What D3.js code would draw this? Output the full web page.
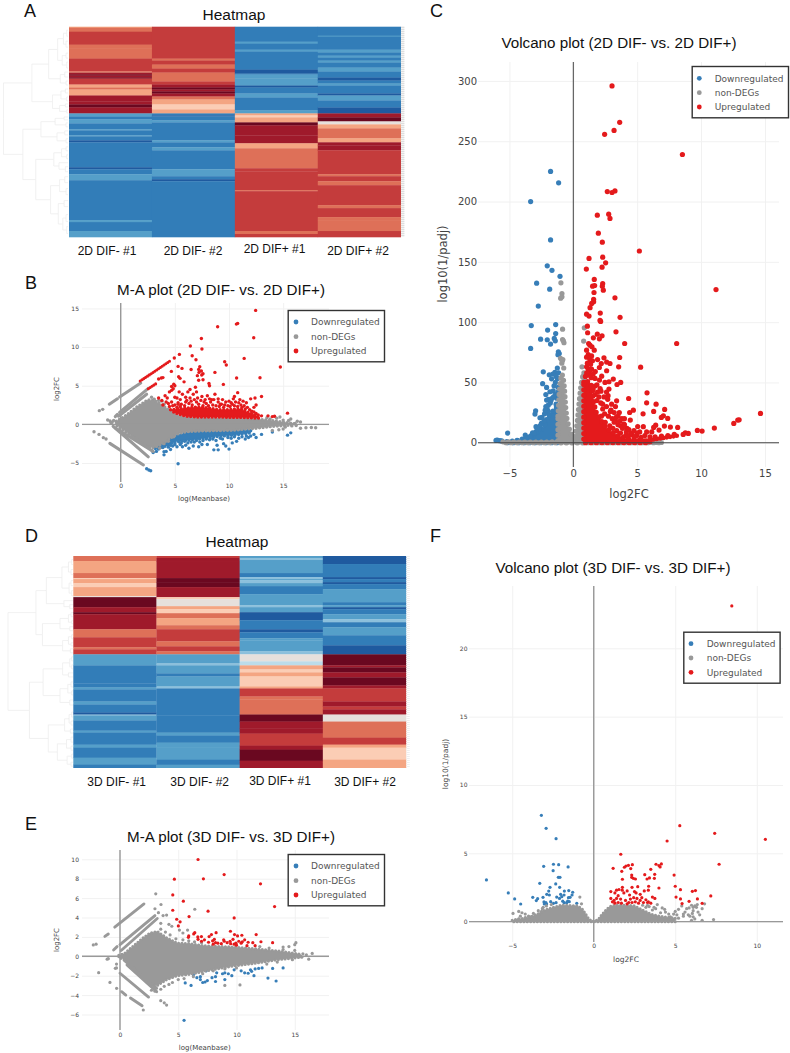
<!DOCTYPE html>
<html><head><meta charset="utf-8">
<script src="https://cdn.jsdelivr.net/npm/d3@7/dist/d3.min.js"></script>
<style>html,body{margin:0;padding:0;background:#fff}svg{display:block}</style></head>
<body><svg id="fig" width="790" height="1053"></svg>
<script>
// ---------- heatmap data: each column is a list of [rows, level] runs ----------
const heatLevels=[-5,-4,-3,-2,-1,0,1,2,3,4,5,6];
const heatColors=["#1f5a9f","#327db8","#559fc9","#8cc0dc","#bcdcea","#e6e0dc","#fbcdb5","#f4a582","#de7058","#c43c3c","#9f1a2b","#6a0820"];
const labelsA=["2D DIF- #1","2D DIF- #2","2D DIF+ #1","2D DIF+ #2"];
const labelsD=["3D DIF- #1","3D DIF- #2","3D DIF+ #1","3D DIF+ #2"];
const heatA1=[[1,2],[4,3],[13,4],[4,3],[10,3],[13,4],[1,2],[2,5],[1,6],[2,5],[1,6],[6,4],[3,2],[2,3],[6,2],[6,5],[3,5],[3,6],[6,5],
 [3,-3],[3,-4],[4,-3],[6,-4],[1,-3],[5,-4],[1,-3],[4,-4],[2,-5],[25,-4],[2,-5],[5,-4],[6,-3],[40,-4],[2,-3],[9,-4],[6,-3]];
const heatA2=[[32,4],[2,3],[4,4],[4,3],[4,4],[9,3],[3,4],[3,5],[2,6],[2,5],[2,6],[3,5],[3,3],[5,2],[5,1],[4,2],
 [2,-4],[1,-5],[4,-4],[2,-3],[18,-4],[2,-3],[5,-4],[3,-3],[19,-4],[7,-3],[3,-4],[2,-5],[56,-4]];
const heatA3=[[15,-4],[2,-3],[6,-4],[2,-3],[18,-4],[4,-5],[1,-4],[4,-3],[7,-3],[2,-5],[6,-4],[4,-3],[13,-4],[3,-3],
 [2,2],[2,1],[5,2],[3,6],[10,5],[8,5],[5,2],[20,3],[3,4],[19,4],[1,3],[40,4],[3,3],[3,4]];
const heatA4=[[9,-4],[1,-3],[13,-4],[3,-3],[3,-4],[2,-3],[3,-4],[2,-3],[5,-4],[4,-3],[6,-4],[3,-5],[3,-4],[2,-3],[8,-4],[2,-5],[5,-3],[7,-4],[6,-5],
 [4,5],[4,6],[3,0],[4,2],[10,3],[4,2],[3,5],[5,5],[24,4],[2,3],[5,4],[4,3],[20,4],[3,3],[9,4],[3,3],[11,3],[6,4]];
const heatD1=[[5,3],[12,2],[5,3],[1,1],[4,2],[4,1],[9,2],[1,0],[10,6],[5,5],[2,6],[15,5],[8,3],[10,4],[2,3],[5,4],
 [11,-3],[18,-4],[4,-4],[2,-3],[12,-4],[3,-3],[8,-4],[2,-5],[1,-2],[5,-3],[10,-4],[2,-3],[12,-4],[3,-3],[10,-4],[7,-3],[3,-4]];
const heatD2=[[2,4],[3,5],[17,5],[4,6],[5,6],[10,5],[2,1],[7,0],[3,2],[4,1],[5,3],[7,2],[4,3],[12,4],[5,3],[5,4],[3,3],
 [9,-3],[2,-2],[8,-3],[3,-4],[10,-3],[2,-2],[27,-4],[17,-4],[3,-3],[7,-4],[5,-3],[12,-3],[5,-4],[3,-3]];
const heatD3=[[2,-3],[2,-2],[13,-3],[4,-4],[2,-2],[1,-3],[3,-2],[3,-3],[8,-4],[11,-3],[2,-2],[5,-3],[8,-5],[9,-4],[3,-5],[6,-4],[2,-3],[11,-3],[3,-2],
 [7,0],[4,-1],[4,2],[3,1],[4,2],[10,1],[2,2],[8,4],[3,3],[15,3],[7,6],[7,5],[5,5],[12,4],[4,5],[11,6],[2,5],[5,5]];
const heatD4=[[8,-5],[13,-4],[2,-5],[3,-4],[2,-5],[5,-4],[13,-3],[3,-4],[2,-3],[2,-5],[5,-4],[5,-3],[3,-2],[5,-4],[8,-3],[10,-4],[9,-5],
 [11,6],[2,5],[5,6],[5,5],[8,6],[3,5],[13,4],[5,5],[3,4],[5,5],[7,0],[16,3],[7,4],[3,2],[12,1],[3,2],[5,2]];
// dendrograms: [height, child, child]; a bare number is a row
const treeA=[1,
 [.56,
  [.3,[.16,[.07,[.02,3,9],[.03,14,20]],[.09,[.03,26,31],[.02,35,41]]],[.12,[.05,45,50],[.03,54,58]]],
  [.24,[.11,[.04,62,66],[.02,70,74]],[.13,[.04,77,80],[.02,83,86]]]],
 [.7,
  [.42,[.2,[.06,90,93],[.03,96,100]],[.17,[.05,104,108],[.03,112,116]]],
  [.5,[.22,[.1,[.03,120,124],[.02,128,132]],[.14,136,[.04,140,145]]],
      [.27,[.13,[.05,150,156],[.03,162,168]],[.15,[.06,174,180],[.08,[.03,188,195],[.02,200,207]]]]]]];
const treeD=[1,
 [.57,
  [.41,[.17,[.07,[.02,3,8],[.03,13,18]],[.06,[.03,24,29],[.02,34,39]]],[.14,44,[.05,48,52]]],
  [.47,[.2,[.07,[.03,56,60],[.02,64,67]],[.05,70,74]],[.16,[.07,[.02,78,82],[.03,86,89]],[.04,92,96]]]],
 [.67,
  [.46,[.16,[.05,[.02,100,104],[.02,108,112]],[.07,116,120]],[.2,[.08,[.03,125,130],[.02,134,138]],[.05,143,148]]],
  [.38,[.13,[.06,[.02,155,160],[.03,164,168]],[.04,172,176]],[.24,[.1,[.03,180,185],[.03,189,193]],[.09,[.02,197,201],[.03,205,209]]]]]];

// ---------- panel B: M-A plot 2D ----------
const bCoreX=[-.4,.5,1.5,2.5,3.1,3.6,4.5,5.2,6,7.3,10.4,12.5,14.1,16];
const bCoreTop=[.4,1.15,2.25,3.15,3.1,2.7,1.8,1.2,.95,.85,.8,.7,.45,.1];
const bCoreLow=[-.1,-.95,-2,-2.95,-3,-2.7,-1.85,-1.25,-.95,-.85,-.75,-.5,-.25,-.05];
const bUpX=[4.6,5,6,7,8,9,10,11,12,12.8];
const bUpTop=[1.9,1.95,2.1,2.25,2.15,1.9,1.9,2,1.45,.95];
const bUpBase=[1.9,1.5,1.05,.95,.95,.95,.9,.9,.85,.8];
const bDownX=[3.2,4,5,6,7,8,9,10,11,12];
const bDownLow=[-3.2,-2.9,-2.25,-2.1,-1.95,-1.75,-1.55,-1.45,-1.3,-1.1];
const bDownBase=[-3,-2.3,-1.6,-1.1,-.95,-.95,-.9,-.85,-.8,-.7];
const bGreyRidges=[[[-1.05,2.6],[-.3,3.3]],[[-.1,3.55],[1.85,5.35]],[[-.5,1],[-.3,1.3]],[[-.1,1.55],[2.55,4.65]],[[-.2,1.05],[2.4,3.9]],
 [[-.7,-.25],[2.55,-4.2]],[[-.45,-.5],[3,-3.5]],[[-1,-2.46],[2.1,-5.26]]];
const bRedRidges=[[[1.8,5.6],[4.55,8.19]],[[2.55,4.6],[3.3,5.3]]];
const bGrey=[[-2.46,-.95],[-2,-1.3],[-1.6,-1.72],[-1.35,-1.9],[-1.97,1.77],[-1.66,1.94],[-1.2,.56],[-.98,.43],[-.8,.25],[-.65,.5],[-.9,.2],
 [14.4,.8],[15,.55],[15.5,.5],[15.7,.7],[16.3,.4],[16.6,.3],[16.2,-.15],[16.6,-.5],[17.1,-.45],[17.6,-.4],[18,-.45],[15.2,-.35],[15.8,-.2],[14.7,.95],[16.1,.1],[3.5,3.1],[3.1,3.25],[2.85,3.5],[3.8,3],[4,2.6],[2.9,-3.4],[3.6,-3.1],[4,-2.5],[4.4,-2.2],[4.9,-1.6],[14,-.8],[14.6,-.7],[15,-.6],[13.5,.85],[13.8,.7]];
const bDown=[[5.3,-5.1],[2.4,-5.75],[2.6,-5.9],[2.77,-6],[3,-3.65],[3.3,-3.5],[3.5,-3.2],[3.9,-3],[4,-3.95],[4,-3.55],[4.2,-3.5],[4.4,-2.95],[4.6,-3.25],[4.8,-2.8],[5,-2.6],[5.2,-2.9],[5.5,-2.6],[5.7,-2.9],[6,-2.7],[6.3,-3.1],[6.7,-2.8],[7.2,-2.9],[7.5,-2.6],[8,-2.6],[8.6,-3.3],[9,-3.3],[8.9,-2.7],[9.5,-2.5],[9.7,-2.8],[10,-3.2],[10.3,-2.4],[10.7,-2.2],[11.5,-1.9],[11.8,-1.7],[12.5,-1.7],[13,-1.3],[14,-1],[15.4,-1.4],[15.7,-1.1],
 [5,-2.4],[5.4,-2.3],[5.6,-2.4],[5.9,-2.2],[6.2,-2.4],[6.5,-2.3],[6.8,-2.3],[7,-2.1],[7.3,-2.3],[7.6,-2.1],[7.9,-1.9],[8.2,-2],[8.5,-1.9],[8.8,-2.1],[9.2,-1.8],[9.4,-1.9],[9.9,-1.7],[10.2,-1.8],[10.5,-1.6],[10.9,-1.8],[11.2,-1.6],[11.6,-1.5],[12,-1.5],[12.3,-1.3],[4.3,-2.6],[4.6,-2.7]];
const bUp=[[12.46,14.74],[10.8,13.06],[10.68,12.97],[8.95,12.63],[7.45,11.1],[12.28,11.2],[6.43,10.13],[7.5,9.74],[5.42,9.05],[6.6,8.88],[4.95,8.58],[6.95,8.36],[11.4,8.53],[9.6,8.1],[9.75,7.67],[14.74,7.41],[5.3,7.5],[7.3,7.46],[7.2,7.11],[7.45,6.9],[7.23,6.72],[7.6,6.55],[7.08,6.3],[7.48,6.38],[4.68,6.85],[5.66,7.24],[6.5,7.1],[8.7,6.72],[10.7,6],[12.86,6.03],[5.48,5.95],[5.85,5.5],[5.35,6.16],[7.2,5.7],[7.6,5.77],[9.48,5.17],[8.15,5.3],[8.2,5],[3.5,5.86],[3.75,6],[3.9,6.05],
 [4.9,5.2],[4.7,4.9],[4.85,4.6],[4.5,4.2],[4.7,4.4],[5,5],[5.4,4.2],[6.2,4.2],[6.4,4.5],[6.9,4.8],[7,4.2],[5.7,3.9],[5.2,3.4],[5,3.5],[4.3,3.4],[3.5,3.4],[3.8,3.1],[4.1,3.7],[4.4,2.7],[4.7,2.9],[5.5,3.2],[6,3.5],[6.4,3.4],[6.7,3.9],[7.1,3.4],[7.5,3.6],[8,3.7],[8.4,3.2],[8.7,3.9],[9,3.3],[9.4,3.2],[9.7,2.9],[10.5,3.6],[10.8,4.1],[10.4,3.3],[11,3.2],[11.3,3],[11.6,2.8],[12,3.3],[12.4,3.4],[12.5,2.5],[13,3.6],[12.3,2.2],[13.6,1.1],[13,1.1],[14,1],[14.2,1.05],[15.4,1.45],[8.2,3.3],[7.7,2.9],[9.2,2.6],[6,2.9],[5.3,2.6],[10.2,2.8],
 [5,2.5],[5.3,2.8],[5.6,2.6],[5.9,2.4],[6.1,3.1],[6.3,2.7],[6.5,3],[6.6,2.5],[6.8,3.2],[7,2.9],[7.2,2.6],[7.4,3.1],[7.6,2.4],[7.8,3.2],[7.9,2.7],[8.1,2.4],[8.3,2.9],[8.5,2.5],[8.6,3.2],[8.8,2.4],[9,2.9],[9.1,2.3],[9.3,2.6],[9.5,2.2],[9.6,2.5],[9.9,2.4],[10,3],[10.1,2.3],[10.3,2.6],[10.5,2.4],[10.6,2.9],[10.8,2.3],[10.9,2.8],[11.1,2.5],[11.2,2.2],[11.4,2.4],[11.5,2],[11.7,2.2],[11.9,1.9],[12.1,1.7],[12.3,1.6],[12.5,1.4],[12.7,1.2],[5.2,2.2],[5.5,2.3],[4.8,2.4],[4.5,2.3],[4.2,2.9],[3.9,2.5]];

// ---------- panel C: volcano 2D ----------
const cGreyBandX=[-5.5,-4,-3,-2,-1,0,1,2,3,4,5,6,7];
const cGreyBandTop=[.8,.5,.5,.6,1,1,1,1,1,1,.8,.5,.2];
const cGreyMassX=[-1.2,-1.1,-1,-.9,-.8,-.7,-.6,-.5,-.3,-.1,.1,.2,.3,.45,.6,.75,.85];
const cGreyMassTop=[22,42,52,57,55,46,30,20,11,5,5,9,16,33,48,55,56];
const cDownX=[-5.2,-4,-3.2,-2.8,-2.3,-2,-1.6,-1.15];
const cDownTop=[1,2,5,9,13,22,26,32];
const cUpX=[.82,1,1.4,1.6,1.8,2.2,2.6,3,3.5,4,4.5,5,6];
const cUpTop=[50,52,48,33,25,18,12,9,6,4,3,2.5,1];
const cUpCurve=[[3.9,.8],[5.5,1.4],[6.8,3.6],[8.1,5.8]];
const cGrey=[[-.97,132.6],[-.89,123.7],[-.89,121],[-.99,119.9],[-.84,94.2],[-.84,85.6],[-.73,82.9],[-.78,84.5],[-.91,69],[-.82,69],[-1,70],[-.75,62],[.86,95.3],[.81,84.3],[.68,63],[.83,58],[.75,55],[-.9,66],[-.86,68]];
const cDown=[[-1.78,225],[-1.15,215.5],[-3.34,200],[-1.78,168.2],[-2.04,146.7],[-1.67,143],[-1.04,138],[-2.87,132.3],[-1.85,127.3],[-2.74,113.3],[-3.29,97.2],[-1.38,98],[-2.01,93.4],[-1.38,90.6],[-2.56,85.9],[-2.04,85.4],[-1.49,86.5],[-1.41,84.5],[-1.78,81.8],[-3.34,78.2],[-1.17,75.4],[-1.1,74],[-1.2,73],[-2.35,58.8],[-1.44,58.3],[-1.88,56.4],[-1.15,58],[-1.7,53],[-1.25,53.3],[-2.4,49],[-2.09,45.9],[-1.51,47.2],[-1.57,43],[-1.83,42.3],[-2.09,35.4],[-1.7,36.7],[-1.3,37],[-1.96,31.2],[-2.04,27.6],[-2.95,26.5],[-3,23.8],[-2.61,20.7],[-2.92,13.3],[-5.14,8],[-3.76,6.4],[-3.19,8.3],[-5.95,2.2],[-5.75,1.7],[-6.05,1.9],[-5.6,1.5],[-1.4,50],[-1.2,46],[-1.35,32],[-1.8,33],[-2.25,24],[-2.5,16],[-3.5,4.5],[-3.3,6],
 [-1.2,42],[-1.4,40],[-1.55,38],[-1.75,35],[-1.95,36],[-2.15,30],[-1.3,28],[-2.3,18],[-2.45,21],[-2.6,14],[-2.7,11],[-2.9,9.5],[-3.05,8],[-3.4,5],[-3.7,3.5],[-4,3],[-4.4,2],[-1.25,62],[-1.6,57],[-1.35,55],[-2.15,40],[-1.95,26],[-2.2,27]];
const cUp=[[3.03,295.9],[3.63,265.7],[3.19,259],[2.45,255.7],[8.54,239],[2.66,208.3],[3.03,207.5],[3.26,208.8],[1.88,188.7],[2.77,189.5],[2.87,186],[1.96,173.8],[2.27,166.3],[5.17,159],[1.23,152.8],[2.3,153.9],[2.53,149.2],[2.25,145.6],[1.02,144],[1.64,135.4],[2.3,132],[2.27,129.8],[1.51,129.8],[1.67,130.4],[2.35,126.5],[1.62,124.6],[3.26,120.2],[1.59,119],[1.59,116.9],[1.44,115.5],[1.31,112],[11.17,127],[2.11,107.5],[1.04,106.6],[1.23,105],[3.66,104],[2.09,101.4],[2.14,100.6],[1.1,96.7],[3.34,92],[1.12,91.2],[1.88,90],[2.25,88.7],[1.57,87],[2.04,86.2],[4.02,82.3],[8.09,82.3],[1.2,82.3],[1.3,80.9],[1.46,79.6],[1.04,76.8],[1.64,76.8],[1.17,73],[1.43,72],[1.04,71],[1.3,69],[1.5,68],[1.9,69],[2.4,70.4],[3.63,70.7],[2.61,66.9],[2.87,65.7],[2.19,65.7],[2.04,62.4],[3.55,63],[5.27,62.7],[1.04,63],[1.17,61],[1.3,60],[1.43,61],[1.72,59],[2.61,59.7],[2.22,55.2],[1.7,53.3],[3.13,52.8],[2.48,50],[2.79,50.6],[3.71,50],[3.42,48.3],[2.79,44.5],[2.17,42.8],[5.77,41.4],[2.72,39],[4.33,36.7],[2.69,36],[3.39,34.8],[5.74,33.1],[6.48,32],[2.3,32],[7.15,27.6],[4.7,27],[4.41,25.1],[6.29,26],[5.46,24],[7.05,22.4],[6.89,21],[7.39,20.2],[4.46,18.8],[5.04,13.5],[5.48,13.3],[6.45,14.6],[6.29,12.7],[7.13,13.8],[7.6,13],[8.17,12.7],[5.74,9],[6.14,9],[6.71,10.5],[14.65,24.3],[12.98,19],[12.87,18.8],[12.56,16],[11.04,12.2],[9.71,10.2],[10.08,9.7],[8.77,8.3],[9,7.7],[8.6,6.9],[3.3,18],[3.7,14],[3.95,15.5],[4.2,12],[4.6,6.5],[4.95,6],[4.1,6],[2.95,27],[3.2,25],[3.5,22],[3.8,20],
 [1.55,44],[1.7,40],[1.85,35],[2,38],[2.15,33],[2.3,28],[2.45,24],[2.6,30],[2.75,22],[2.9,26],[3.05,20],[3.2,17],[3.35,21],[3.5,15],[3.65,18],[3.85,12],[4,15],[4.15,9],[4.35,11],[4.5,8],[4.75,10],[5,8],[5.2,9],[2.2,22],[2.5,17],[2.85,14],[3.1,12],[3.4,10],[3.7,8],[4.25,6],[4.8,5],[5.3,4.5],[5.6,6],[6,5],[6.4,5],[6.9,5.5],[7.4,6],[7.9,7],[1.7,47],[1.9,42],[2.1,45],[1.55,57],[1.4,54],[1.85,48],[2.4,38],[2.6,42],[3,32],[3.3,30],[3.6,25],[4,20],[2.05,52],[1.25,56],[1.05,58],[.95,55],[1.1,66],[1.35,65]];

// ---------- panel E: M-A plot 3D ----------
const eCoreX=[-.1,.4,1.2,2,2.6,3.2,4,4.9,6,7.4,9.7,11.7,13.5,15.5];
const eCoreTop=[.1,.3,1.1,1.9,2.4,2.55,1.9,1.35,1.3,1.05,.95,.75,.55,.2];
const eCoreLow=[-.15,-.3,-1.2,-2.2,-2.85,-3,-2.4,-2,-1.85,-1.5,-1,-.7,-.35,-.1];
const eGreyRidges=[[[-1.3,2.05],[-1,2.3]],[[-.45,3],[2.06,5.4]],[[-.55,.65],[-.25,1]],[[0,1.2],[3,4.2]],[[.1,.6],[3.2,3.9]],
 [[.35,-.4],[3.15,-3.3]],[[.6,-.9],[3.15,-3.65]],[[0,-1.75],[2.45,-4.2]],[[.14,-3.65],[.5,-4]],[[.9,-4.3],[1.9,-5.1]]];
const eGrey=[[3.07,6.44],[6.42,4.85],[3.52,5.34],[-2.29,1.17],[-2.05,1.25],[-1.83,-1.69],[-.86,-2.69],[-.29,-3.3],[-.4,-1.24],[-.3,-1.2],[-1.1,-.3],[-1,-.25],[-.3,-.8],[2,-5.54],[3.5,-4.58],[3.8,-4.8],[4,-5.03],[3,4.9],[3.3,4.5],[3.7,4.2],[4,4.25],[4.2,3.3],[3.5,3.4],[4.45,3.1],[5.1,2.7],[5.4,2.4],[2.7,-3.5],[3,-3.6],[3.5,-3.4],[3.8,-3.1],[4.2,-2.9],[9,-3],[10.3,-2.95],[15,.6],[15,1.2],[14.5,1],[15.1,1.4],[16.5,.3],[15.7,.25],[16,.15],[16.2,-.3],[14.8,-.35],[14,.95],[15.6,-.1],[5.8,2.7],
 [3.5,2.8],[3.9,2.5],[4.3,2.2],[4.8,1.8],[5.4,1.7],[5.9,1.6],[6.4,1.5],[7,1.4],[4.5,-2.7],[5,-2.4],[5.5,-2.3],[6.3,-2.1],[7.1,-1.8],[8,-1.5],[9,-1.3],[10,-1.2],[12,1],[12.8,.85],[14,.7],[13.5,-.6],[12.6,-.8]];
const eDown=[[5.5,-6.6],[5.6,-2.75],[6.1,-3],[6.3,-1.9],[6.6,-2.2],[6.9,-2.4],[6.9,-2.1],[7.1,-2.7],[7.3,-2.65],[7.4,-1.5],[7.5,-2.5],[7.9,-2.2],[8.2,-2.1],[8.2,-2.6],[8.3,-1.7],[8.8,-1.8],[9,-2.4],[9,-1.7],[9.3,-1.8],[9.6,-2],[9.8,-1.4],[10.4,-1.5],[10.7,-1.7],[11,-1.75],[11.2,-1.4],[11.3,-1.55],[11.5,-2],[11.6,-1.3],[11.9,-1.25],[12.7,-2.25],[13.1,-1.25],[13.4,-2.55],[14,-1.2],[12.2,-1.2]];
const eUp=[[6.7,9.98],[4.67,7.95],[7.16,7.99],[8.94,8.43],[12.06,7.47],[4.53,6.33],[5.44,5.68],[13.27,5.13],[4.53,4.75],[7.56,4.65],[5.93,4.1],[9.8,3.96],[4.87,3.82],[5.16,3.55],[5.01,3.13],[9.48,2.58],[6.42,2.44],[6.33,2.31],[8.25,2.44],[9.83,2.24],[11.69,2.24],[10.09,2.1],[10.46,2.17],[5.9,2.1],[5.87,1.96],[7.85,2.24],[7.65,2.03],[6.68,2],[6.99,2.03],[6.7,1.75],[7,1.55],[7.25,1.7],[7.6,1.45],[7.95,1.6],[8.1,1.75],[8.2,1.4],[8.4,1.35],[8.7,1.3],[8.9,1.7],[8.95,1.55],[9.2,1.4],[9.45,1.55],[9.5,1.3],[9.7,1.75],[9.8,1.25],[9.95,1.35],[10.2,1.55],[10.4,1.35],[10.5,1.5],[10.7,1.7],[11,1.45],[11.4,1.4],[11.6,1.1],[12.1,1.5],[13.1,1.4],[10.9,1.1],[10,1.15],[8,1.25]];

// ---------- panel F: volcano 3D ----------
const fCoreX=[-5,-4,-3.5,-3,-2,-1,-.7,-.5,-.3,-.1,.1,.3,.5,.8,1,1.3,2,2.5,3,3.5,4,5];
const fCoreTop=[.1,.3,.5,.85,1.2,1.15,.9,.55,.18,.04,.04,.18,.5,.9,1.1,1.2,1.2,1.15,.85,.55,.4,.25];
const fGrey=[[-4.95,.6],[-4.6,.75],[-4.4,.65],[-4.5,.4],[-4.2,.55],[-3.7,.6],[-3.4,.8],[-3.1,1.05],[-.85,1.8],[-.75,1.3],[-4.6,.2],[-3.2,.75],[3.2,1.05],[3.4,1.1],[3.9,1.25],[4.2,1],[4.35,.9],[4.6,.55],[5,.75],[5.2,.9],[5.1,.5],[5.4,1.15],[5.7,.95],[5.85,1],[6,1.2],[6.1,1.05],[6.2,1.15],[6.3,1.05],[6.1,.8],[6.05,.6],[6.35,1.25],[6.8,1.3],[6.65,.95],[5.5,.4],[4.7,.35],[6.2,.2],[6,.1],[6.65,.1],[7.35,.15],[5.8,.5],[5.6,.7],[5.2,.25],
 [-4.2,.3],[-4,.4],[-3.9,.35],[-3.75,.25],[-3.6,.5],[-3.35,.55],[-3.15,.95],[-2.9,1.15],[-2.6,1.25],[-4.7,.1],[-4.4,.15],[-4.1,.05],[-3.5,.2],[3.6,.85],[3.8,.95],[4.1,.65],[4.4,.7],[4.9,.55],[5.5,.55],[5.9,.4],[6.4,.7],[6.5,.5],[6.1,.35],[3,1.2],[3.3,1.2],[3.7,1.05]];
const fDown=[[-3.21,7.78],[-2.92,6.83],[-2.31,6.07],[-3.07,4.05],[-2.47,4.2],[-2.15,4.17],[-1.57,4],[-2.49,3.73],[-2.17,3.24],[-2.07,3.24],[-6.58,3.05],[-3.31,2.8],[-2.33,2.76],[-2.68,2.51],[-2.09,2.51],[-5.24,2.1],[-2.76,2.24],[-2.88,2],[-2.72,1.95],[-1.8,2.24],[-1.53,2.27],[-1.29,2.15],[-1.33,1.95],[-3.74,1.78],[-3.44,1.68],[-3.11,1.78],[-4.85,1.66],[-3.52,1.54],[-4.48,1.29],[-3.05,1.44],[-2.93,1.39],[-3.03,1.29],[-2.89,1.29],[-2.64,1.46],[-2.27,1.8],[-2.03,2],[-1.96,1.83],[-2.1,1.7],[-1.82,1.95],[-1.55,1.75],[-1.45,1.78],[-1.6,1.5],[-1.5,1.46],[-1.9,1.5],[-1.82,1.39],[-1.66,1.39],[-2.31,1.39],[-2.47,1.34],[-1.04,1.34]];
const fUp=[[8.47,23.1],[1.66,4.93],[5.28,7.02],[7.42,6.46],[10.53,6.02],[4.5,5.9],[7.69,4.2],[1.19,3.9],[1.72,3.68],[1.88,3.98],[1.98,4.07],[2.13,4.12],[2.37,4.17],[2.27,3.88],[2.33,3.41],[2.33,3.24],[2.43,3.17],[2.56,3.12],[1.76,3.1],[3.13,3.44],[3.5,3.83],[3.82,4.2],[4,4.1],[4.15,4.22],[4.07,4],[3.74,3.46],[3.72,3.17],[3.42,3.2],[3.27,3.12],[4.93,3.41],[5,2.59],[5.32,2.34],[6.05,2.22],[6.24,2.27],[3.37,2.59],[4,2.46],[2.7,2.56],[2.35,2.51],[1.76,2.51],[5.05,1.8],[5.32,1.66],[5.42,1.32],[5.85,1.49],[6.36,1.66],[6.65,1.34],[7.18,1.88],
 [1.05,2.2],[1.05,1.7],[1.3,2.1],[1.4,2.3],[1.5,1.9],[1.55,2.35],[1.25,1.55],[1.15,1.45],[1.3,1.35],[1.5,1.4],[1.65,1.65],[1.7,1.35],[1.75,2.3],[1.85,2.1],[1.95,1.55],[2.05,1.3],[2.05,2.25],[2.2,1.95],[2.25,1.65],[2.35,1.4],[2.45,1.75],[2.55,1.45],[2.6,2.1],[2.65,1.7],[2.75,1.35],[2.85,2],[2.85,1.55],[3.05,1.4],[3.1,2.25],[3.2,1.6],[3.35,2.3],[3.35,1.45],[3.5,1.35],[3.6,1.8],[3.75,1.7],[2.95,1.75],[1.4,1.7],[2.15,1.4],[2.5,2.2],[3.3,1.4]];

// ---------- layout ----------
const svg=d3.select("#fig");
const blue="#377eb8",grey="#999999",red="#e41a1c";
const heatColor=d3.scaleOrdinal().domain(heatLevels).range(heatColors);
const AR="'Liberation Sans',Arial,sans-serif",DV="'DejaVu Sans',Verdana,sans-serif";
function txt(x,y,s,size,font,anchor,fill,rot){
 const t=svg.append("text").attr("x",x).attr("y",y).text(s).attr("font-size",size).attr("font-family",font).attr("text-anchor",anchor||"middle").attr("fill",fill||"#111");
 if(rot)t.attr("transform",`rotate(${rot},${x},${y})`);return t;}

[["A",24,17],["B",25,289],["C",430,17],["D",25,542],["E",25,830],["F",430,542]].forEach(d=>txt(d[1],d[2],d[0],18,AR,"start"));

function heatmap(c){
 const g=svg.append("g");
 const x=d3.scaleBand().domain(c.labels).range([c.left,c.right]);
 const rows=d3.sum(c.cols[0],r=>r[0]);
 const y=d3.scaleLinear().domain([0,rows]).range([c.top,c.bottom]);
 c.cols.forEach((col,i)=>{let at=0;col.forEach(r=>{
   g.append("rect").attr("x",x(c.labels[i])).attr("width",x.bandwidth()+.3).attr("y",y(at)).attr("height",y(at+r[0])-y(at)+.3).attr("fill",heatColor(r[1]));at+=r[0];});});
 c.labels.forEach((l,i)=>txt(c.labelX[i],c.labelY[i],l,12,AR));
 txt(c.titleX,c.titleY,"Heatmap",15.5,AR);
 g.append("line").attr("x1",c.right+2).attr("x2",c.right+2).attr("y1",c.top).attr("y2",c.bottom).attr("stroke",c.stripColor).attr("stroke-width",3.5).attr("stroke-dasharray","1 1");
 const hx=d3.scaleLinear().domain([0,1]).range(c.treeRange);
 const root=d3.hierarchy(c.tree,d=>Array.isArray(d)?d.slice(1):null);
 root.eachAfter(n=>{n.ry=n.children?d3.mean(n.children,k=>k.ry):y(n.data+.5);n.rh=n.children?n.data[0]:0;});
 const p=d3.path();
 root.links().forEach(l=>{p.moveTo(hx(l.source.rh),l.source.ry);p.lineTo(hx(l.source.rh),l.target.ry);p.lineTo(hx(l.target.rh),l.target.ry);});
 g.append("path").attr("d",p.toString()).attr("fill","none").attr("stroke","#ededed").attr("stroke-width",.8);
}
heatmap({labels:labelsA,cols:[heatA1,heatA2,heatA3,heatA4],left:69,right:400.7,top:26.7,bottom:237,tree:treeA,treeRange:[68,3.5],stripColor:"#d4d4d4",
 labelX:[107,193,274.5,358],labelY:[255,255,253,255],titleX:234,titleY:20});
heatmap({labels:labelsD,cols:[heatD1,heatD2,heatD3,heatD4],left:73.3,right:406,top:556,bottom:767.7,tree:treeD,treeRange:[73,8],stripColor:"#efefef",
 labelX:[116.7,199.7,280,365],labelY:[785.5,785.5,785,785.5],titleX:237,titleY:547});

function scatter(c){
 const g=svg.append("g");
 const x=d3.scaleLinear().domain(c.xDomain).range([c.left,c.right]);
 const y=d3.scaleLinear().domain(c.yDomain).range([c.bottom,c.top]);
 const gx=g.append("g").attr("transform",`translate(0,${c.bottom})`).call(d3.axisBottom(x).tickValues(c.xTicks).tickSize(-(c.bottom-c.top)).tickPadding(c.xPad));
 const gy=g.append("g").attr("transform",`translate(${c.left},0)`).call(d3.axisLeft(y).tickValues(c.yTicks).tickSize(-(c.right-c.left)).tickPadding(c.yPad));
 [gx,gy].forEach(a=>{a.select(".domain").remove();a.selectAll("line").attr("stroke","#f1f1f1").attr("stroke-width",1);
  a.selectAll("text").attr("font-family",DV).attr("font-size",c.tickSize).attr("fill","#444");});
 const r=c.r;
 // dense mass read as an envelope; its edge is beaded with marker-sized dots
 const area=(xs,t,b,col)=>{const d=xs.map((v,i)=>[v,t[i],b?b[i]:0]);
  g.append("path").attr("d",d3.area().x(k=>x(k[0])).y1(k=>y(k[1])).y0(k=>y(k[2]))(d)).attr("fill",col).attr("stroke",col).attr("stroke-width",r*2).attr("stroke-linecap","round").attr("stroke-dasharray",`0 ${r*2.1}`);};
 const ridge=(pts,col,dash)=>g.append("path").attr("d",d3.line().x(k=>x(k[0])).y(k=>y(k[1]))(pts)).attr("fill","none").attr("stroke",col).attr("stroke-width",r*1.8).attr("stroke-linecap","round").attr("stroke-dasharray",dash);
 const pts=(arr,col)=>g.append("g").selectAll("circle").data(arr).join("circle").attr("cx",d=>x(d[0])).attr("cy",d=>y(d[1])).attr("r",r).attr("fill",col);
 // traces: Downregulated, non-DEGs, Upregulated
 (c.layers.down||[]).forEach(a=>area(a[0],a[1],a[2],blue));pts(c.down,blue);
 (c.layers.grey||[]).forEach(a=>area(a[0],a[1],a[2],grey));(c.greyRidges||[]).forEach(l=>ridge(l,grey,null));pts(c.grey,grey);
 (c.layers.up||[]).forEach(a=>area(a[0],a[1],a[2],red));(c.redRidges||[]).forEach(l=>ridge(l,red,`0 ${r*1.3}`));pts(c.up,red);
 // zero lines
 g.append("line").attr("x1",x(0)).attr("x2",x(0)).attr("y1",c.top).attr("y2",c.bottom).attr("stroke",c.zero).attr("stroke-width",c.zeroW);
 g.append("line").attr("x1",c.left).attr("x2",c.right).attr("y1",y(0)).attr("y2",y(0)).attr("stroke",c.zero).attr("stroke-width",c.zeroW);
 // titles
 txt(c.titleX,c.titleY,c.title,c.titleSize,AR);
 txt(c.xlabX,c.xlabY,c.xlab,c.labSize,DV,"middle","#444");
 txt(c.ylabX,c.ylabY,c.ylab,c.labSize,DV,"middle","#444",-90);
 // legend
 const L=c.legend;
 g.append("rect").attr("x",L.x0+.5).attr("y",L.y0+.5).attr("width",L.x1-L.x0).attr("height",L.y1-L.y0).attr("fill","#fff").attr("stroke","#333").attr("stroke-width",1.4);
 [["Downregulated",blue],["non-DEGs",grey],["Upregulated",red]].forEach((d,i)=>{
  g.append("circle").attr("cx",L.mx).attr("cy",L.ys[i]).attr("r",L.r).attr("fill",d[1]);
  txt(L.tx,L.ys[i]+3.2,d[0],9,DV,"start","#555");});
}
const legendAt=(x0,y0,y1,ys,mx,tx)=>({x0,x1:x0+96.3,y0,y1,ys,mx,tx,r:2.4});

scatter({title:"M-A plot (2D DIF- vs. 2D DIF+)",titleX:221,titleY:295,titleSize:15.2,xlab:"log(Meanbase)",xlabX:204,xlabY:501,ylab:"log2FC",ylabX:59,ylabY:389,labSize:7,tickSize:6,
 left:82,right:329,top:303,bottom:482,xDomain:[-3.57,19.23],yDomain:[-7.46,15.7],xTicks:[0,5,10,15],yTicks:[-5,0,5,10,15],xPad:2,yPad:3,zero:"#999",zeroW:1.4,r:1.7,
 layers:{grey:[[bCoreX,bCoreTop,bCoreLow]],up:[[bUpX,bUpTop,bUpBase]],down:[[bDownX,bDownBase,bDownLow]]},greyRidges:bGreyRidges,redRidges:bRedRidges,down:bDown,grey:bGrey,up:bUp,
 legend:legendAt(287.7,310,361.3,[322,336.7,351],296,311)});

scatter({title:"Volcano plot (2D DIF- vs. 2D DIF+)",titleX:619,titleY:48,titleSize:15.2,xlab:"log2FC",xlabX:629,xlabY:498,ylab:"log10(1/padj)",ylabX:447,ylabY:264,labSize:11.5,tickSize:10,
 left:478,right:779,top:62,bottom:467,xDomain:[-7.46,16.1],yDomain:[-20.1,315.7],xTicks:[-5,0,5,10,15],yTicks:[0,50,100,150,200,250,300],xPad:3,yPad:1,zero:"#444",zeroW:1,r:2.6,
 layers:{down:[[cDownX,cDownTop,null]],grey:[[cGreyBandX,cGreyBandTop,null],[cGreyMassX,cGreyMassTop,null]],up:[[cUpX,cUpTop,null]]},redRidges:[cUpCurve],down:cDown,grey:cGrey,up:cUp,
 legend:legendAt(691.7,66,117.3,[78.3,92.7,107],699.3,714.7)});

scatter({title:"M-A plot (3D DIF- vs. 3D DIF+)",titleX:231,titleY:842,titleSize:15.2,xlab:"log(Meanbase)",xlabX:204.7,xlabY:1050,ylab:"log2FC",ylabX:59,ylabY:940,labSize:7,tickSize:6,
 left:82,right:329,top:850,bottom:1030,xDomain:[-3.26,17.94],yDomain:[-7.6,10.96],xTicks:[0,5,10,15],yTicks:[-6,-4,-2,0,2,4,6,8,10],xPad:2.5,yPad:3,zero:"#999",zeroW:1.4,r:1.6,
 layers:{grey:[[eCoreX,eCoreTop,eCoreLow]]},greyRidges:eGreyRidges,down:eDown,grey:eGrey,up:eUp,
 legend:legendAt(287.7,854,905.3,[866,880.7,895],296,311)});

scatter({title:"Volcano plot (3D DIF- vs. 3D DIF+)",titleX:613,titleY:573,titleSize:15.2,xlab:"log2FC",xlabX:626,xlabY:962,ylab:"log10(1/padj)",ylabX:448,ylabY:764,labSize:7.5,tickSize:6,
 left:469,right:783,top:586,bottom:942,xDomain:[-7.65,11.61],yDomain:[-1.49,24.56],xTicks:[-5,0,5,10],yTicks:[0,5,10,15,20],xPad:2,yPad:1.5,zero:"#999",zeroW:1.4,r:1.6,
 layers:{grey:[[fCoreX,fCoreTop,null]]},down:fDown,grey:fGrey,up:fUp,
 legend:legendAt(683.3,631.7,682.7,[643.7,658,672.3],691,706.7)});
</script></body></html>
